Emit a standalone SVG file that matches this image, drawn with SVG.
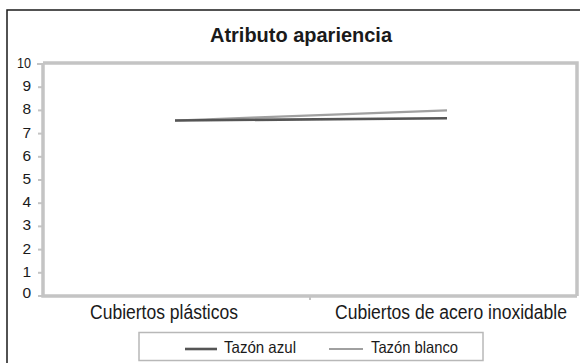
<svg xmlns="http://www.w3.org/2000/svg" width="580" height="363" viewBox="0 0 580 363">
<defs>
<filter id="blur" x="-5%" y="-50%" width="110%" height="200%"><feGaussianBlur stdDeviation="0.6"/></filter>
</defs>
<style>
.t{font-family:"Liberation Sans",Arial,sans-serif;fill:#1a1a1a}
.tick{font-size:15.5px;text-anchor:end}
.cat{font-size:19.5px}
.leg{font-size:16.5px}
.ax{stroke:#c4c4c4;stroke-width:3.5;fill:none}
.tk{stroke:#c4c4c4;stroke-width:2}
</style>
<rect x="7" y="10" width="600" height="400" fill="#fff" stroke="#1a1a1a" stroke-width="1.5"/>
<text class="t" x="301" y="42" font-size="20.5" font-weight="bold" text-anchor="middle" textLength="182" lengthAdjust="spacingAndGlyphs">Atributo apariencia</text>
<g id="plot-area">
<path class="ax" d="M43,63 H577 V296"/>
<path class="ax" d="M43,63 V296 H577" stroke="#bdbdbd"/>
<g class="tk">
<line x1="37" y1="64" x2="43" y2="64"/>
<line x1="38" y1="87.2" x2="43" y2="87.2"/>
<line x1="38" y1="110.4" x2="43" y2="110.4"/>
<line x1="38" y1="133.6" x2="43" y2="133.6"/>
<line x1="38" y1="156.8" x2="43" y2="156.8"/>
<line x1="38" y1="180" x2="43" y2="180"/>
<line x1="38" y1="203.2" x2="43" y2="203.2"/>
<line x1="38" y1="226.4" x2="43" y2="226.4"/>
<line x1="38" y1="249.6" x2="43" y2="249.6"/>
<line x1="38" y1="272.8" x2="43" y2="272.8"/>
<line x1="38" y1="296" x2="43" y2="296"/>
<line x1="310" y1="296" x2="310" y2="300"/>
</g>
</g>
<g id="y-labels">
<text class="t tick" x="31" y="68" textLength="14" lengthAdjust="spacingAndGlyphs">10</text>
<text class="t tick" x="31" y="91.2">9</text>
<text class="t tick" x="31" y="114.4">8</text>
<text class="t tick" x="31" y="137.6">7</text>
<text class="t tick" x="31" y="160.8">6</text>
<text class="t tick" x="31" y="184">5</text>
<text class="t tick" x="31" y="207.2">4</text>
<text class="t tick" x="31" y="230.4">3</text>
<text class="t tick" x="31" y="253.6">2</text>
<text class="t tick" x="31" y="276.8">1</text>
<text class="t tick" x="31" y="297.5">0</text>
</g>
<g id="x-labels">
<text class="t cat" x="90" y="319" textLength="148" lengthAdjust="spacingAndGlyphs">Cubiertos plásticos</text>
<text class="t cat" x="335" y="319" textLength="232" lengthAdjust="spacingAndGlyphs">Cubiertos de acero inoxidable</text>
</g>
<g id="connectors">
<line id="tazon-blanco" x1="175" y1="120.5" x2="447" y2="110.4" stroke="#a0a0a0" stroke-width="2.2" filter="url(#blur)"/>
<line id="tazon-azul" x1="175" y1="120.5" x2="447" y2="118.2" stroke="#555" stroke-width="2.6" filter="url(#blur)"/>
</g>
<g id="legend">
<rect x="139" y="332.5" width="344" height="28" fill="#fff" stroke="#b8b8b8" stroke-width="1.5"/>
<line x1="185" y1="349" x2="217" y2="349" stroke="#555" stroke-width="2.6"/>
<text class="t leg" x="224" y="353" textLength="72" lengthAdjust="spacingAndGlyphs">Tazón azul</text>
<line x1="329" y1="349" x2="363" y2="349" stroke="#a0a0a0" stroke-width="2"/>
<text class="t leg" x="371" y="353" textLength="87" lengthAdjust="spacingAndGlyphs">Tazón blanco</text>
</g>
</svg>
